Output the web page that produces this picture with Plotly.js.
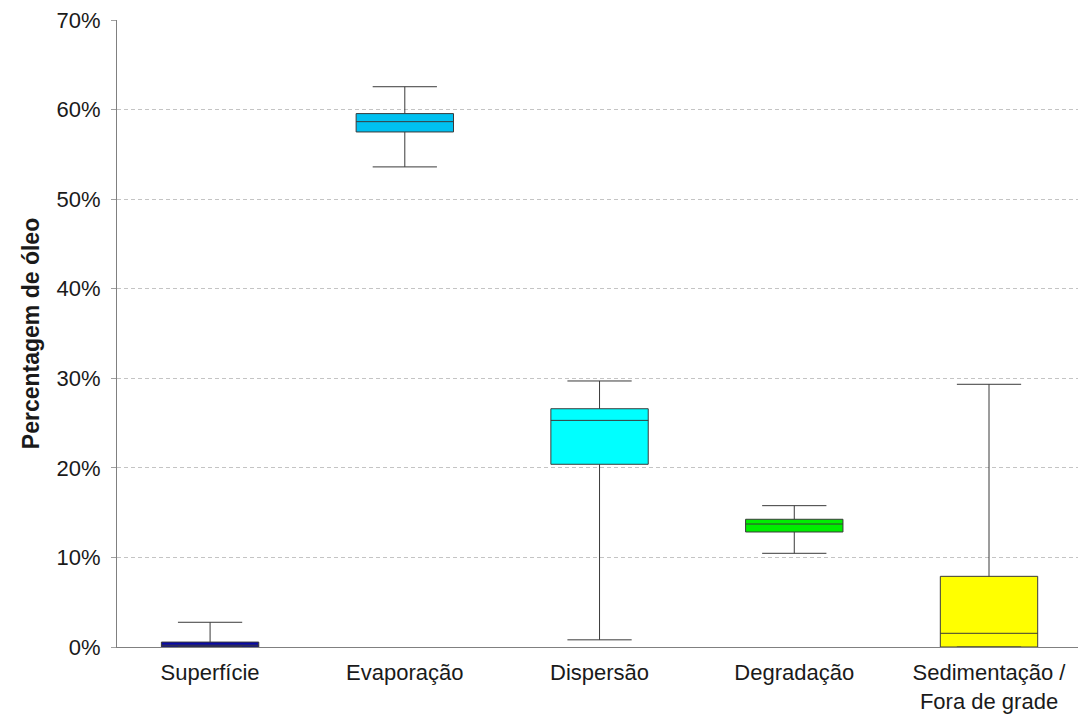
<!DOCTYPE html>
<html>
<head>
<meta charset="utf-8">
<script src="https://cdn.plot.ly/plotly-3.0.1.min.js"></script>
<style>html,body{margin:0;padding:0;background:#fff;}#chart{width:1081px;height:720px;}</style>
</head>
<body>
<div id="chart"></div>
<script>
const categories = ["Superfície", "Evaporação", "Dispersão", "Degradação", "Sedimentação /<br>Fora de grade"];
const lowerFence = [0.000, 0.536, 0.008, 0.1046, 0.000];
const q1Values   = [0.000, 0.575, 0.204, 0.1284, 0.000];
const medians    = [0.002, 0.5865, 0.253, 0.1373, 0.0153];
const q3Values   = [0.0055, 0.5955, 0.266, 0.1426, 0.0789];
const upperFence = [0.0276, 0.6255, 0.297, 0.1578, 0.2933];
const colors = ["#0A0AA8", "#00C0F0", "#00FFFF", "#00EE00", "#FFFF00"];

const traces = categories.map((c, i) => ({
  type: "box",
  x: [c],
  lowerfence: [lowerFence[i]],
  q1: [q1Values[i]],
  median: [medians[i]],
  q3: [q3Values[i]],
  upperfence: [upperFence[i]],
  fillcolor: colors[i],
  line: {color: "#3a3a3a", width: 1},
  width: 0.5,
  whiskerwidth: 0.66,
  showlegend: false,
  hoverinfo: "skip"
}));

const layout = {
  width: 1081, height: 720,
  margin: {l: 117, r: 3, t: 20, b: 73},
  paper_bgcolor: "#fff", plot_bgcolor: "#fff",
  font: {family: "Liberation Sans, Arial, sans-serif", color: "#1a1a1a", size: 22},
  xaxis: {
    type: "category",
    range: [-0.478, 4.457],
    showline: true, linecolor: "#808080", linewidth: 1,
    ticks: "", showgrid: false,
    tickfont: {size: 22},
    ticklabelstandoff: 6
  },
  yaxis: {
    range: [0, 0.7], dtick: 0.1, tickformat: ".0%",
    showline: true, linecolor: "#808080", linewidth: 1,
    ticks: "outside", ticklen: 5, tickcolor: "#a0a0a0",
    ticklabelstandoff: 6,
    showgrid: true, gridcolor: "#c4c4c4", griddash: "4px,3px", gridwidth: 1,
    zeroline: false,
    tickfont: {size: 22},
    title: {text: "<b>Percentagem de óleo</b>", font: {size: 23}, standoff: 10}
  }
};

Plotly.newPlot("chart", traces, layout, {displayModeBar: false, staticPlot: true});
</script>
</body>
</html>
